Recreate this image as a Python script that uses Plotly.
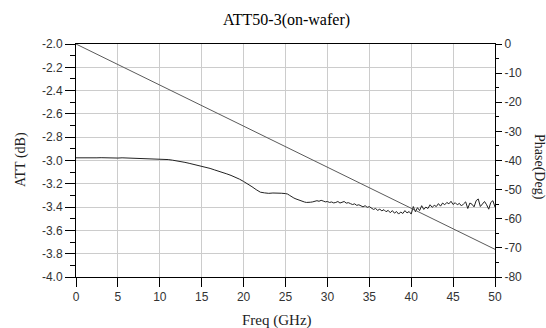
import numpy as np
import plotly.graph_objects as go

# ---- data ----
freq_low = np.arange(0, 25.001, 0.5)        # 0 .. 25 GHz
att_low = [-2.977, -2.978, -2.976, -2.977, -2.978, -2.977, -2.976, -2.978, -2.977, -2.978,
           -2.979, -2.977, -2.978, -2.980, -2.979, -2.982, -2.983, -2.982, -2.984, -2.985,
           -2.986, -2.988, -2.992, -2.997, -3.002, -3.010, -3.016, -3.024, -3.032, -3.040,
           -3.050, -3.060, -3.068, -3.080, -3.090, -3.102, -3.115, -3.128, -3.142, -3.160,
           -3.180, -3.200, -3.225, -3.250, -3.272, -3.278, -3.282, -3.279, -3.283, -3.281,
           -3.284]
freq_high = np.arange(25.25, 50.001, 0.25)   # 25.25 .. 50 GHz
att_high = [-3.288, -3.300, -3.315, -3.322, -3.330, -3.338, -3.345, -3.352, -3.356, -3.360,
            -3.362, -3.358, -3.355, -3.352, -3.345, -3.350, -3.342, -3.348, -3.355, -3.352,
            -3.360, -3.356, -3.364, -3.360, -3.352, -3.365, -3.358, -3.352, -3.366, -3.362,
            -3.370, -3.378, -3.372, -3.385, -3.380, -3.392, -3.398, -3.388, -3.402, -3.396,
            -3.410, -3.420, -3.412, -3.428, -3.418, -3.432, -3.422, -3.440, -3.428, -3.448,
            -3.430, -3.452, -3.438, -3.460, -3.442, -3.455, -3.430, -3.450, -3.438, -3.460,
            -3.395, -3.440, -3.405, -3.430, -3.388, -3.420, -3.400, -3.412, -3.380, -3.402,
            -3.385, -3.395, -3.370, -3.392, -3.365, -3.380, -3.360, -3.372, -3.350, -3.378,
            -3.362, -3.380, -3.368, -3.390, -3.372, -3.355, -3.412, -3.365, -3.375, -3.398,
            -3.345, -3.330, -3.395, -3.370, -3.352, -3.380, -3.418, -3.360, -3.345, -3.400]
n = min(len(freq_high), len(att_high))
freq = list(freq_low) + list(freq_high[:n])
att = att_low + att_high[:n]

phase_freq = [0, 50]
phase_deg = [0, -70.5]

x_ticks = [0, 5, 10, 15, 20, 25, 30, 35, 40, 45, 50]
y_ticks = [-4.0, -3.8, -3.6, -3.4, -3.2, -3.0, -2.8, -2.6, -2.4, -2.2, -2.0]
y2_ticks = [-80, -70, -60, -50, -40, -30, -20, -10, 0]

title = "ATT50-3(on-wafer)"
x_title = "Freq (GHz)"
y_title = "ATT (dB)"
y2_title = "Phase(Deg)"

serif = "Liberation Serif, Times New Roman, serif"
sans = "Liberation Sans, Arial, sans-serif"

fig = go.Figure()
fig.add_trace(go.Scatter(x=freq, y=att, mode="lines",
                         line=dict(color="#222222", width=1), yaxis="y"))
fig.add_trace(go.Scatter(x=phase_freq, y=phase_deg, mode="lines",
                         line=dict(color="#5a5a5a", width=1), yaxis="y2"))

tickfont = dict(family=sans, size=12, color="#333333")

fig.update_layout(
    width=546, height=328,
    margin=dict(l=76, r=51, t=44, b=51),
    paper_bgcolor="white", plot_bgcolor="white",
    showlegend=False,
    font=dict(family=sans, size=12, color="#333333"),
    xaxis=dict(range=[0, 50], tickvals=x_ticks, ticktext=[str(v) for v in x_ticks],
               showgrid=True, gridcolor="#cccccc", gridwidth=1,
               zeroline=False, showline=True, linecolor="#000000", linewidth=1, mirror=True,
               ticks="outside", ticklen=9, tickcolor="#000000", tickfont=tickfont),
    yaxis=dict(range=[-4, -2], tickvals=y_ticks, ticktext=["%.1f" % v for v in y_ticks],
               showgrid=True, gridcolor="#cccccc", gridwidth=1,
               zeroline=False, showline=True, linecolor="#000000", linewidth=1,
               ticks="outside", ticklen=10, tickcolor="#000000",
               minor=dict(dtick=0.1, tick0=-4, ticks="outside", ticklen=5, tickcolor="#000000", showgrid=False),
               tickfont=tickfont),
    yaxis2=dict(range=[-80, 0], tickvals=y2_ticks, ticktext=[str(v) for v in y2_ticks],
                overlaying="y", side="right", showgrid=False,
                zeroline=False, showline=True, linecolor="#000000", linewidth=1,
                ticks="outside", ticklen=6, tickcolor="#000000",
                minor=dict(dtick=5, tick0=-80, ticks="outside", ticklen=3, tickcolor="#000000"),
                tickfont=tickfont),
)

plot_w = 546 - 76 - 51
plot_h = 328 - 44 - 51
def px_x(px):
    return (px - 76) / plot_w
def px_y(py):
    return (328 - 51 - py) / plot_h

def ann(text, px, py, angle=0, size=14, color="#222222"):
    return dict(text=text, xref="paper", yref="paper", x=px_x(px), y=px_y(py),
                xanchor="center", yanchor="middle", textangle=angle, showarrow=False,
                font=dict(family=serif, size=size, color=color))

fig.update_layout(annotations=[
    ann(title, 286, 20, size=16, color="#000000"),
    ann(x_title, 277, 320, size=15),
    ann(y_title, 21, 160, angle=-90, size=14),
    ann(y2_title, 539, 167, angle=90, size=14),
])

fig.write_html("out.html")
